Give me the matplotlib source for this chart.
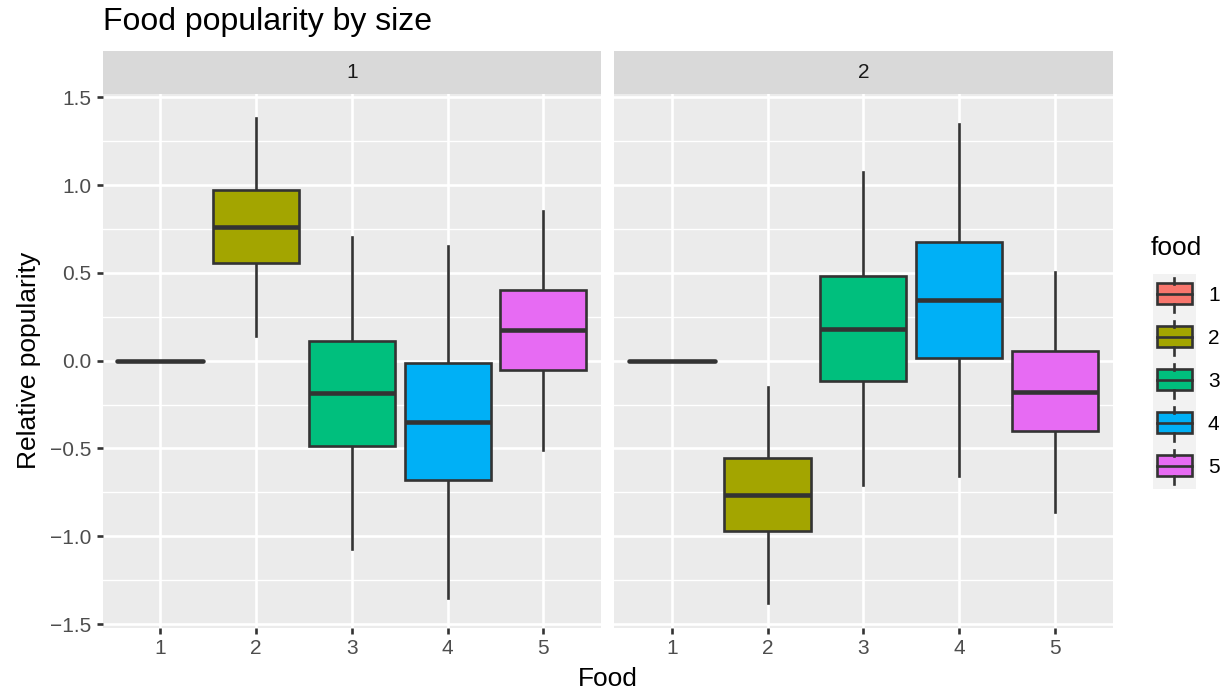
import matplotlib
matplotlib.use("Agg")
import matplotlib.pyplot as plt
from matplotlib.patches import Rectangle
from matplotlib.lines import Line2D

plt.rcParams['font.family'] = ['Liberation Sans', 'DejaVu Sans']

# ---- data ----
foods = ['1', '2', '3', '4', '5']
sizes = ['1', '2']
colors = ['#F8766D', '#A3A500', '#00BF7D', '#00B0F6', '#E76BF3']

whislo1 = [0.0, 0.14, -1.07, -1.35, -0.51]
q1_1 = [0.0, 0.556, -0.484, -0.681, -0.053]
med1 = [0.0, 0.761, -0.186, -0.347, 0.175]
q3_1 = [0.0, 0.970, 0.113, -0.013, 0.401]
whishi1 = [0.0, 1.380, 0.704, 0.655, 0.854]

whislo2 = [0.0, -1.382, -0.708, -0.655, -0.860]
q1_2 = [0.0, -0.972, -0.115, 0.014, -0.402]
med2 = [0.0, -0.763, 0.182, 0.346, -0.176]
q3_2 = [0.0, -0.554, 0.481, 0.678, 0.053]
whishi2 = [0.0, -0.148, 1.073, 1.346, 0.507]

panels = [
    (whislo1, q1_1, med1, q3_1, whishi1),
    (whislo2, q1_2, med2, q3_2, whishi2),
]

yticks = [-1.5, -1.0, -0.5, 0.0, 0.5, 1.0, 1.5]
yminor = [-1.25, -0.75, -0.25, 0.25, 0.75, 1.25]

W, H = 1228, 694
fig = plt.figure(figsize=(W / 100, H / 100), dpi=100)
fig.patch.set_facecolor('white')

def fx(px):
    return px / W

def fy(py):
    return 1 - py / H

panel_top, panel_bot = 94.1, 627.6
panel_x = [(102.9, 600.8), (614.2, 1112.5)]
strip_top = 51.0

LINE = '#333333'
LW = 1.9
TICK_FS = 15
TITLE_FS = 19

axes = []
for i, (xl, xr) in enumerate(panel_x):
    ax = fig.add_axes([fx(xl), fy(panel_bot), fx(xr - xl), (panel_bot - panel_top) / H])
    ax.set_facecolor('#EBEBEB')
    for s in ax.spines.values():
        s.set_visible(False)
    ax.set_xlim(0.4, 5.6)
    ax.set_ylim(-1.52, 1.518)
    for y in yminor:
        ax.axhline(y, color='white', lw=0.95, zorder=0)
    for y in yticks:
        ax.axhline(y, color='white', lw=1.9, zorder=0)
    for x in range(1, 6):
        ax.axvline(x, color='white', lw=1.9, zorder=0)

    wl, q1, md, q3, wh = panels[i]
    stats = []
    for k in range(len(foods)):
        stats.append(dict(whislo=wl[k], q1=q1[k], med=md[k], q3=q3[k], whishi=wh[k], fliers=[]))
    bp = ax.bxp(stats, positions=range(1, 6), widths=0.9, patch_artist=True,
                showcaps=False, showfliers=False, manage_ticks=False,
                boxprops=dict(edgecolor=LINE, linewidth=LW),
                whiskerprops=dict(color=LINE, linewidth=LW),
                medianprops=dict(color=LINE, linewidth=3.3, solid_capstyle='butt'))
    for k, patch in enumerate(bp['boxes']):
        patch.set_facecolor(colors[k])
        patch.set_zorder(2)
    for m in bp['medians']:
        m.set_zorder(3)
    for w in bp['whiskers']:
        w.set_zorder(1.5)
    bp['medians'][0].set_solid_capstyle('round')

    ax.set_xticks(range(1, 6))
    ax.set_xticklabels(foods)
    ax.tick_params(axis='x', colors='#333333', length=4.5, width=1.9, labelsize=TICK_FS,
                   labelcolor='#4D4D4D', pad=3.5)
    if i == 0:
        ax.set_yticks(yticks)
        ax.set_yticklabels([('\u2212' if v < 0 else '') + f"{abs(v):.1f}" for v in yticks])
        ax.tick_params(axis='y', colors='#333333', length=4.5, width=1.9, labelsize=TICK_FS,
                       labelcolor='#4D4D4D', pad=4)
    else:
        ax.set_yticks([])

    # strip
    sax = fig.add_axes([fx(xl), fy(panel_top), fx(xr - xl), (panel_top - strip_top) / H])
    sax.set_facecolor('#D9D9D9')
    for s in sax.spines.values():
        s.set_visible(False)
    sax.set_xticks([])
    sax.set_yticks([])
    sax.text(0.5, 0.5, sizes[i], ha='center', va='center', fontsize=TICK_FS, color='#1A1A1A',
             transform=sax.transAxes)
    axes.append(ax)

# titles
fig.text(fx(103), fy(22), 'Food popularity by size', ha='left', va='center', fontsize=23, color='black')
fig.text(fx(607.5), fy(679), 'Food', ha='center', va='center', fontsize=TITLE_FS, color='black')
fig.text(fx(29), fy((panel_top + panel_bot) / 2), 'Relative popularity', ha='center', va='center',
         rotation=90, fontsize=TITLE_FS, color='black')

# legend
lax = fig.add_axes([0, 0, 1, 1], facecolor='none')
lax.set_xlim(0, W)
lax.set_ylim(H, 0)
lax.axis('off')
lax.text(1151, 248, 'food', ha='left', va='center', fontsize=TITLE_FS, color='black')
key_top, key_h, key_l, key_w = 274.3, 43.0, 1152.7, 43.0
for k, lab in enumerate(foods):
    y0 = key_top + k * key_h
    lax.add_patch(Rectangle((key_l, y0), key_w, key_h, facecolor='#F2F2F2', edgecolor='none'))
    cx = key_l + key_w / 2
    lax.add_line(Line2D([cx, cx], [y0 + 0.08 * key_h, y0 + 0.22 * key_h], color=LINE, lw=LW))
    lax.add_line(Line2D([cx, cx], [y0 + 0.70 * key_h, y0 + 0.88 * key_h], color=LINE, lw=LW))
    bx0, bx1 = key_l + 4.6, key_l + key_w - 4.0
    lax.add_patch(Rectangle((bx0, y0 + 0.21 * key_h), bx1 - bx0, 0.49 * key_h, facecolor=colors[k],
                            edgecolor=LINE, lw=LW))
    lax.add_line(Line2D([bx0, bx1], [y0 + 0.455 * key_h, y0 + 0.455 * key_h], color=LINE, lw=LW))
    lax.text(1208, y0 + key_h / 2, lab, ha='left', va='center', fontsize=TICK_FS, color='black')

fig.savefig('out.png', dpi=100, facecolor='white')
